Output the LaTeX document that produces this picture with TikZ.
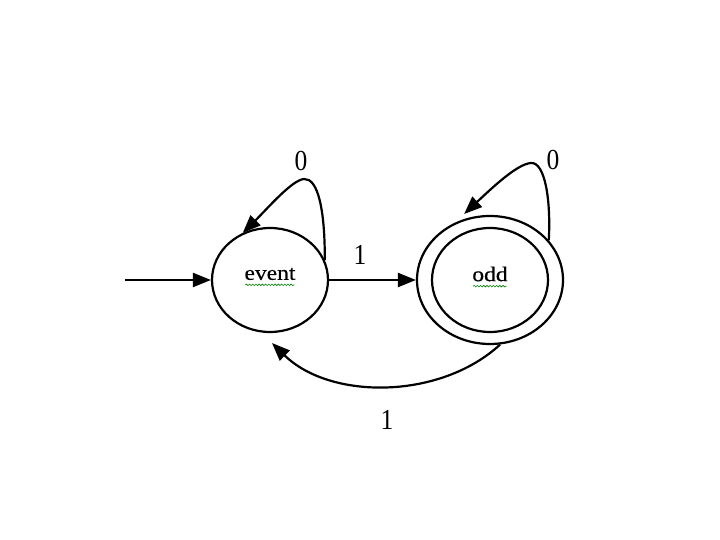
\documentclass[tikz,border=0pt]{standalone}
\usepackage{fontspec}
\setmainfont{Liberation Serif}
\newfontfamily\lblfont{Liberation Serif}[FakeStretch=0.88]
\newfontfamily\stfont{Liberation Serif}[FakeStretch=1.12,FakeBold=0.4]
\usetikzlibrary{arrows.meta,shapes.geometric,decorations.pathmorphing,calc}
\begin{document}
\begin{tikzpicture}[x=1pt,y=1pt,
  state/.style={draw,line width=2.2pt,ellipse,inner sep=0pt},
  edge/.style={line width=2.2pt,-{Triangle[length=18pt,width=14pt]}},
  lbl/.style={font=\lblfont\fontsize{29}{31}\selectfont,inner sep=0pt},
  stxt/.style={font=\stfont\fontsize{21}{23}\selectfont,inner sep=1pt},
  squig/.style={draw=green!50!black,line width=0.6pt,decorate,decoration={snake,amplitude=0.8pt,segment length=3.2pt}}]
\useasboundingbox (0,0) rectangle (720,540);
\node[state,minimum width=116pt,minimum height=104pt] (event) at (270,260) {};
\node[stxt] (eventt) at (270,266) {event};
\node[state,minimum width=146pt,minimum height=128pt] (odd) at (490,260) {};
\node[state,minimum width=116pt,minimum height=104pt] (oddin) at (490,260) {};
\node[stxt] (oddt) at (490,266) {odd};
\draw[squig] ($(eventt.base west)+(2,-5)$) -- ($(eventt.base east)+(-2,-5)$);
\draw[squig] ($(oddt.base west)+(2,-5)$) -- ($(oddt.base east)+(-2,-5)$);
\coordinate (init) at (125,260);
\coordinate (bt) at (272,197);
\draw[edge] (init) -- (event.west);
\draw[edge] (event.east) -- (odd.west);
\draw[edge] (event.20) .. controls (325,330) and (318,362) .. (304,361)
  .. controls (292,360) and (268,332) .. (event.120);
\draw[edge] (odd.34) .. controls (551,340) and (545,378) .. (531,377)
  .. controls (517,376) and (492,352) .. ([yshift=5pt]odd.113);
\draw[edge] (odd.-81) .. controls (440,140) and (330,140) .. (bt);
\node[lbl] (l0a) at (301,379) {0};
\node[lbl] (l0b) at (553,380) {0};
\node[lbl] (l1a) at (360,285) {1};
\node[lbl] (l1b) at (387,120) {1};
\end{tikzpicture}
\end{document}
